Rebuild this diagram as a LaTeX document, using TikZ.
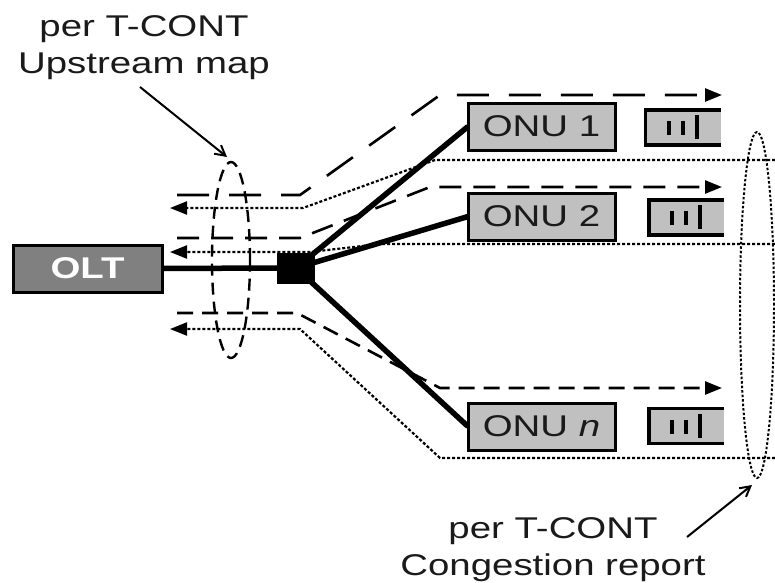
\documentclass[tikz,border=0pt]{standalone}
\usepackage{fontspec}
\newfontfamily\lab[FakeStretch=1.28]{Liberation Sans}
\usetikzlibrary{arrows.meta,shapes.geometric}
\definecolor{oltgray}{HTML}{808080}
\definecolor{onugray}{HTML}{C0C0C0}
\definecolor{ink}{HTML}{1A1A1A}
\begin{document}
\begin{tikzpicture}[x=1pt,y=-1pt,
  every node/.style={inner sep=0pt, outer sep=0pt},
  labeltext/.style={font=\lab\fontsize{30}{37}\selectfont, align=center, text=ink},
  onu/.style={draw, line width=3pt, fill=onugray, minimum width=147pt, minimum height=47pt, font=\lab\fontsize{30}{34}\selectfont, text=ink},
  olt/.style={draw, line width=3pt, fill=oltgray, minimum width=149pt, minimum height=47pt, font=\lab\bfseries\fontsize{30}{34}\selectfont, text=white},
  splitter/.style={fill=black, draw=black, minimum width=37pt, minimum height=30pt},
  qbox/.style={fill=onugray, minimum width=75pt, minimum height=35pt},
  qline/.style={line width=3.2pt},
  qbar/.style={line width=4pt},
  fiber/.style={line width=5.5pt},
  down1/.style={line width=2.6pt, dash pattern=on 32pt off 20pt, -{Triangle[length=17pt,width=13pt]}},
  down2/.style={line width=2.6pt, dash pattern=on 22pt off 12pt, -{Triangle[length=17pt,width=13pt]}},
  down3/.style={line width=2.6pt, dash pattern=on 16pt off 9pt, -{Triangle[length=17pt,width=13pt]}},
  up/.style={line width=2.2pt, dash pattern=on 3pt off 2pt, -{Triangle[length=17pt,width=13pt]}},
  mapell/.style={ellipse, draw, line width=2.4pt, dash pattern=on 12pt off 7pt},
  repell/.style={ellipse, draw, line width=2pt, dash pattern=on 2.5pt off 2pt},
  pointer/.style={line width=2pt, -{Straight Barb[length=10pt,width=11pt]}}
]
\useasboundingbox (0,0) rectangle (775,582);

% nodes
\node[olt] (olt) at (87.5,268.5) {OLT};
\node[splitter] (sp) at (296,268) {};
\node[onu] (onu1) at (541.5,126.5) {ONU 1};
\node[onu] (onu2) at (541.5,216.5) {ONU 2};
\node[onu] (onun) at (541.5,426.5) {ONU \textit{n}};

% queues
\node[qbox] (q1) at (683,127.5) {};
\node[qbox] (q2) at (686.5,217.5) {};
\node[qbox] (qn) at (686.5,426) {};
\foreach \q in {q1,q2,qn}{
  \draw[qline] (\q.north east) -- (\q.north west) -- (\q.south west) -- (\q.south east);
  \draw[qbar] ([xshift=23pt,yshift=-11pt]\q.north west) -- ([xshift=23pt,yshift=-25pt]\q.north west);
  \draw[qbar] ([xshift=37pt,yshift=-11pt]\q.north west) -- ([xshift=37pt,yshift=-25pt]\q.north west);
  \draw[qbar] ([xshift=51pt,yshift=-5pt]\q.north west) -- ([xshift=51pt,yshift=-29pt]\q.north west);
}

% ellipses
\node[mapell, minimum width=38pt, minimum height=196pt] (emap) at (231,260) {};
\node[repell, minimum width=34pt, minimum height=346pt] (erep) at (757,305) {};

% downstream (dashed)
\draw[down1] (177,195) -- (300,195) -- (440,95) -- (722,95);
\draw[down2] (177,238) -- (300,238) -- (430,187) -- (722,187);
\draw[down3] (177,313) -- (297,313) -- (440,388) -- (722,388);

% upstream (dotted)
\draw[up] (775,160) -- (435,160) -- (303,208) -- (170,208);
\draw[up] (775,244) -- (380,244) -- (310,252) -- (170,252);
\draw[up] (775,458) -- (440,458) -- (300,329) -- (170,329);

% fibers
\draw[fiber] (olt.east) -- (sp.west);
\draw[fiber] (sp.center) -- (onu1.west);
\draw[fiber] (sp.center) -- (onu2.west);
\draw[fiber] (sp.center) -- (onun.west);

% labels
\node[labeltext] (lmap) at (144,48) {per T-CONT\\Upstream map};
\node[labeltext] (lrep) at (553,550) {per T-CONT\\Congestion report};
\coordinate (mapstart) at (140,87);
\coordinate (mapend) at (227,157);
\coordinate (repstart) at (687,537);
\coordinate (repend) at (752,485);
\draw[pointer] (mapstart) -- (mapend);
\draw[pointer] (repstart) -- (repend);
\end{tikzpicture}
\end{document}
